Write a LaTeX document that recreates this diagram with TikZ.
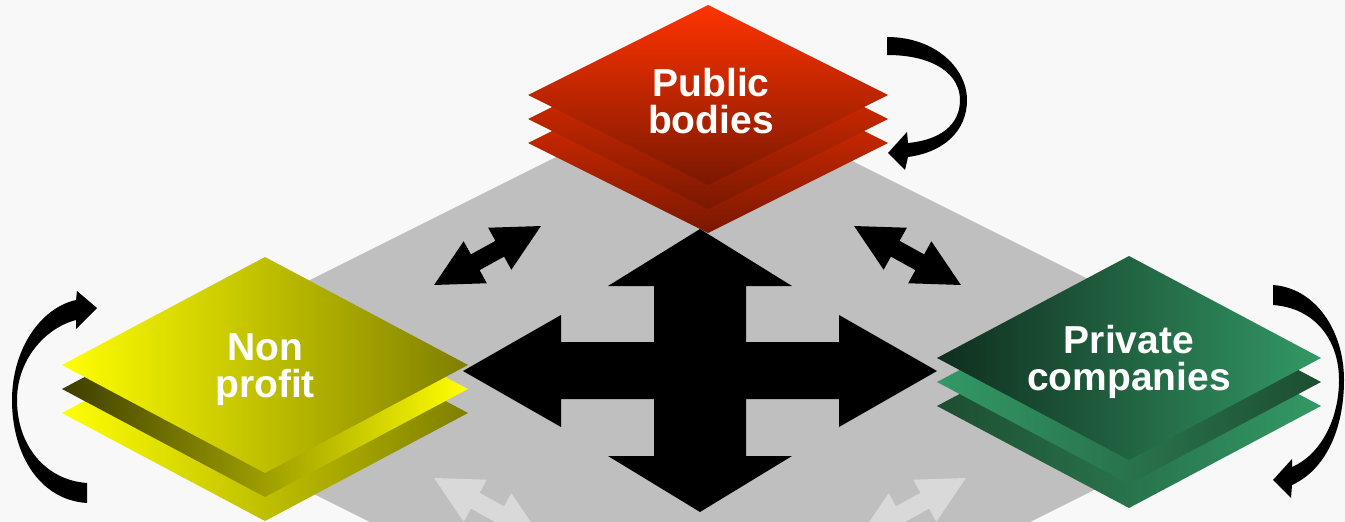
\documentclass[tikz,border=0pt]{standalone}
\usepackage{fontspec}
\setsansfont{Liberation Sans}
\definecolor{bgc}{HTML}{F8F8F8}
\definecolor{grayd}{HTML}{BFBFBF}
\definecolor{lightarr}{HTML}{D9D9D9}
\definecolor{redA}{HTML}{FF3300}
\definecolor{redB}{HTML}{7A1800}
\definecolor{yelA}{HTML}{FFFF00}
\definecolor{yelB}{HTML}{7F7F00}
\definecolor{yelC}{HTML}{3D3D00}
\definecolor{grnA}{HTML}{339966}
\definecolor{grnB}{HTML}{0F2E1E}
\definecolor{grnC}{HTML}{1D4D32}
\begin{document}
\begin{tikzpicture}[x=1pt,y=-1pt,
  lbl/.style={text=white,font=\sffamily\bfseries\fontsize{39}{37}\selectfont,anchor=base,inner sep=0pt},
  dblarr/.pic={\fill[pic actions] (-61,0) -- (-14,-24) -- (-14,-9) -- (14,-9) -- (14,-24) -- (61,0) -- (14,24) -- (14,9) -- (-14,9) -- (-14,24) -- cycle;},
  curved/.style={fill=black}]
\useasboundingbox (0,0) rectangle (1345,522);
\clip (0,0) rectangle (1345,522);
\fill[bgc] (0,0) rectangle (1345,522);
% grey platform
\fill[grayd] (700,85) -- (1302,386) -- (700,687) -- (98,386) -- cycle;
% small double arrows
\pic[fill=black,rotate=28.9] (ad1) at (487.5,255.5) {dblarr};
\pic[fill=black,rotate=-28.9] (ad2) at (907.5,255.5) {dblarr};
\pic[fill=lightarr,rotate=-28.9] (ad3) at (487.5,507.5) {dblarr};
\pic[fill=lightarr,rotate=28.9] (ad4) at (912.5,507.5) {dblarr};
% four-way arrow
\fill[black] (700,229) -- (792,286) -- (746,286) -- (746,342) -- (839,342) -- (839,315) -- (937,371) -- (839,427) -- (839,399) -- (746,399) -- (746,456) -- (792,456) -- (700,512) -- (608,456) -- (654,456) -- (654,399) -- (561,399) -- (561,427) -- (463,371) -- (561,315) -- (561,342) -- (654,342) -- (654,286) -- (608,286) -- cycle;
% red stack
\shade[top color=redA,bottom color=redB] (708,53)--(888,143)--(708,233)--(528,143)--cycle;
\shade[top color=redA,bottom color=redB] (708,29)--(888,119)--(708,209)--(528,119)--cycle;
\shade[top color=redA,bottom color=redB] (708,5)--(888,95)--(708,185)--(528,95)--cycle;
% yellow stack
\shade[left color=yelA,right color=yelB] (265,305)--(468,413)--(265,521)--(62,413)--cycle;
\shade[left color=yelC,right color=yelA] (265,281)--(468,389)--(265,497)--(62,389)--cycle;
\shade[left color=yelA,right color=yelB] (265,257)--(468,365)--(265,473)--(62,365)--cycle;
% green stack
\shade[left color=grnC,right color=grnA] (1129,304)--(1321,406)--(1129,508)--(937,406)--cycle;
\shade[left color=grnA,right color=grnC] (1129,280)--(1321,382)--(1129,484)--(937,382)--cycle;
\shade[left color=grnB,right color=grnA] (1129,256)--(1321,358)--(1129,460)--(937,358)--cycle;
% labels
\node[lbl] (pb1) at (711,96) {Public};
\node[lbl] (pb2) at (711,133) {bodies};
\node[lbl] (np1) at (265,360) {Non};
\node[lbl] (np2) at (265,397) {profit};
\node[lbl] (pc1) at (1129,353) {Private};
\node[lbl] (pc2) at (1129,390) {companies};
% curved arrows
\fill[curved] (887,37) .. controls (935,37) and (967,68) .. (967,100) .. controls (967,130) and (945,152) .. (908,157)
  -- (905,170) -- (888,153) -- (907,132) -- (908,143)
  .. controls (940,140) and (960,125) .. (960,100) .. controls (960,75) and (935,55) .. (887,55) -- cycle;
\fill[curved] (87,503) .. controls (40,500) and (12,455) .. (12,400) .. controls (12,350) and (40,308) .. (76,300)
  -- (77,291) -- (97,308) -- (76,329) -- (76,320)
  .. controls (45,328) and (17,360) .. (17,400) .. controls (17,445) and (45,480) .. (87,483) -- cycle;
\fill[curved] (1273,285) .. controls (1315,288) and (1344,330) .. (1344,380) .. controls (1344,430) and (1325,470) .. (1292,485)
  -- (1291,498) -- (1273,480) -- (1292,459) -- (1292,467)
  .. controls (1320,455) and (1339,420) .. (1339,380) .. controls (1339,340) and (1315,308) .. (1273,305) -- cycle;
\end{tikzpicture}
\end{document}
